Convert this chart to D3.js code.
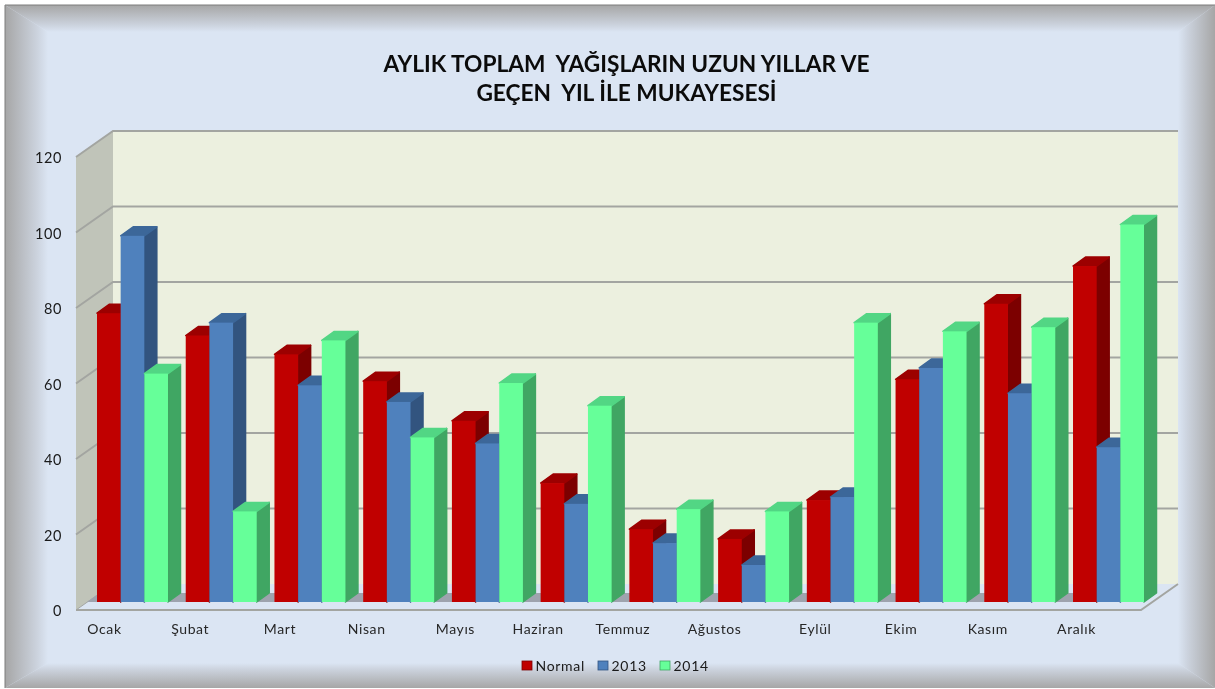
<!DOCTYPE html>
<html>
<head>
<meta charset="utf-8">
<script src="https://cdn.jsdelivr.net/npm/d3@7"></script>
<style>
  html, body { margin: 0; background: #fff; }
  svg { display: block; filter: blur(0.45px); }
  text { font-family: Lato, sans-serif; }
</style>
</head>
<body>
<svg id="chart"></svg>
<script>
const months = ["Ocak", "Şubat", "Mart", "Nisan", "Mayıs", "Haziran", "Temmuz", "Ağustos", "Eylül", "Ekim", "Kasım", "Aralık"];
const seriesNames = ["Normal", "2013", "2014"];
const normal = [76.5, 70.6, 65.6, 58.5, 48, 31.5, 19.3, 16.7, 27, 59, 79, 89];
const y2013 = [97, 74, 57.4, 53, 42, 26, 15.6, 9.8, 27.8, 62, 55.3, 41];
const y2014 = [60.5, 24, 69.3, 43.6, 58, 52, 24.6, 24, 74, 71.7, 72.8, 100];
const yTicks = [0, 20, 40, 60, 80, 100, 120];
const titleLines = ["AYLIK TOPLAM  YAĞIŞLARIN UZUN YILLAR VE", "GEÇEN  YIL İLE MUKAYESESİ"];

const width = 1215;
const height = 689;

// month labels sit left of their groups, each by a different amount
const labelNudge = [-28, -31, -30, -32, -32, -38, -42, -39, -27, -30, -32, -32];

const colors = {
  front: ["#c00000", "#4f81bd", "#66ff99"],
  side: ["#7c0000", "#32547f", "#40a663"],
  top: ["#9c0000", "#3c6799", "#52d684"]
};

const svg = d3.select("#chart").attr("width", width).attr("height", height);
const defs = svg.append("defs");

// frame: flat panel with four mitred bevels
const outer = { l: 5, t: 5, r: 1215, b: 688 };
const inner = { l: 48, t: 32, r: 1178, b: 663 };
const edge = "#a6a6a6";
const panel = "#dbe5f3";

function bevelGradient(id, x1, y1, x2, y2) {
  const g = defs.append("linearGradient").attr("id", id)
    .attr("gradientUnits", "userSpaceOnUse")
    .attr("x1", x1).attr("y1", y1).attr("x2", x2).attr("y2", y2);
  g.append("stop").attr("offset", 0).attr("stop-color", edge);
  g.append("stop").attr("offset", 0.75).attr("stop-color", "#ccd3de");
  g.append("stop").attr("offset", 1).attr("stop-color", panel);
}
bevelGradient("bevelL", outer.l, 0, inner.l, 0);
bevelGradient("bevelR", outer.r, 0, inner.r, 0);
bevelGradient("bevelT", 0, outer.t, 0, inner.t);
bevelGradient("bevelB", 0, outer.b, 0, inner.b);

svg.append("rect")
  .attr("x", outer.l).attr("y", outer.t)
  .attr("width", outer.r - outer.l).attr("height", outer.b - outer.t)
  .attr("fill", panel);

const bevels = [
  ["bevelT", [[outer.l, outer.t], [outer.r, outer.t], [inner.r, inner.t], [inner.l, inner.t]]],
  ["bevelB", [[outer.l, outer.b], [outer.r, outer.b], [inner.r, inner.b], [inner.l, inner.b]]],
  ["bevelL", [[outer.l, outer.t], [inner.l, inner.t], [inner.l, inner.b], [outer.l, outer.b]]],
  ["bevelR", [[outer.r, outer.t], [inner.r, inner.t], [inner.r, inner.b], [outer.r, outer.b]]]
];
svg.selectAll(".bevel").data(bevels).enter().append("polygon")
  .attr("points", d => d[1].join(" "))
  .attr("fill", d => `url(#${d[0]})`);

svg.append("path")
  .attr("d", `M${outer.l},${outer.b} V${outer.t} H${outer.r}`)
  .attr("fill", "none").attr("stroke", "#7d7d7d").attr("stroke-width", 1);

// title
svg.selectAll(".title").data(titleLines).enter().append("text")
  .attr("x", 626.5)
  .attr("y", (d, i) => 72 + i * 29)
  .attr("text-anchor", "middle")
  .attr("font-size", 22.7)
  .attr("font-weight", 700)
  .attr("fill", "#0b0b0b")
  .style("white-space", "pre")
  .text(d => d);

// scales are for the front edge of the floor, the walls are offset back from it
const y = d3.scaleLinear().domain([0, 120]).range([610, 157]);
const plot = { left: 76, right: 1141, depthX: 37, depthY: 26 };
const barShift = 8;   // bars stand this far up the floor
const barDepthX = 12.5;
const barDepthY = 9;

const x0 = d3.scaleBand().domain(months).range([97, 1144]).paddingInner(0.2);
const x1 = d3.scaleBand().domain(seriesNames).range([0, x0.bandwidth()]);

// walls and floor
svg.append("polygon")
  .attr("points", [[plot.left + plot.depthX, y(120) - plot.depthY], [plot.right + plot.depthX, y(120) - plot.depthY],
    [plot.right + plot.depthX, y(0) - plot.depthY], [plot.left + plot.depthX, y(0) - plot.depthY]].join(" "))
  .attr("fill", "#ecf0df");
svg.append("polygon")
  .attr("points", [[plot.left, y(120)], [plot.left + plot.depthX, y(120) - plot.depthY],
    [plot.left + plot.depthX, y(0) - plot.depthY], [plot.left, y(0)]].join(" "))
  .attr("fill", "#c0c4b9");
svg.append("polygon")
  .attr("points", [[plot.left, y(0)], [plot.left + plot.depthX, y(0) - plot.depthY],
    [plot.right + plot.depthX, y(0) - plot.depthY], [plot.right, y(0)]].join(" "))
  .attr("fill", "#dbe5f3");

const grid = svg.append("g").attr("fill", "none").attr("stroke", "#a3a5a1");
yTicks.filter(t => t > 0).forEach(t => {
  grid.append("path")
    .attr("d", `M${plot.left},${y(t)} L${plot.left + plot.depthX},${y(t) - plot.depthY} H${plot.right + plot.depthX}`)
    .attr("stroke-width", 2);
});
grid.append("path")
  .attr("d", `M${plot.left},${y(0)} H${plot.right} L${plot.right + plot.depthX},${y(0) - plot.depthY}`)
  .attr("stroke-width", 2);
grid.append("path")
  .attr("d", `M${plot.left},${y(0)} L${plot.left + plot.depthX},${y(0) - plot.depthY}`)
  .attr("stroke-width", 1);

// floor shadow in the gap before each group
const shadowY = y(0) - barShift;
const gap = x0.step() - x0.bandwidth();
svg.append("g").selectAll("polygon").data(months).enter().append("polygon")
  .attr("points", d => {
    const l = Math.max(x0(d) - gap, 87);
    const r = x0(d) + barDepthX;
    return [[l, shadowY], [l + barDepthX, shadowY - barDepthY], [r, shadowY - barDepthY], [r - barDepthX, shadowY]].join(" ");
  })
  .attr("fill", "#9ea3ae");

// bars, left to right so each one covers the side of the one before
const values = [normal, y2013, y2014];
months.forEach((m, i) => {
  seriesNames.forEach((s, k) => {
    const left = x0(m) + x1(s);
    const right = left + x1.bandwidth();
    const top = y(values[k][i]) - barShift;
    const base = y(0) - barShift;
    const g = svg.append("g").attr("stroke-linejoin", "round").attr("stroke-width", 1.5);
    g.append("polygon")
      .attr("points", [[right, top], [right + barDepthX, top - barDepthY], [right + barDepthX, base - barDepthY], [right, base]].join(" "))
      .attr("fill", colors.side[k]).attr("stroke", colors.side[k]);
    g.append("polygon")
      .attr("points", [[left, top], [left + barDepthX, top - barDepthY], [right + barDepthX, top - barDepthY], [right, top]].join(" "))
      .attr("fill", colors.top[k]).attr("stroke", colors.top[k]);
    g.append("rect")
      .attr("x", left).attr("y", top)
      .attr("width", x1.bandwidth()).attr("height", base - top)
      .attr("fill", colors.front[k]);
  });
});

// axis labels
const yAxis = svg.append("g")
  .attr("transform", "translate(62,1)")
  .call(d3.axisLeft(y).tickValues(yTicks).tickSize(0).tickPadding(0));
yAxis.select(".domain").remove();
yAxis.selectAll("text")
  .attr("font-size", 14.5).attr("fill", "#1a1a1a")
  .style("font-family", "Lato, sans-serif").style("letter-spacing", "0.6px");

const xAxis = svg.append("g")
  .attr("transform", "translate(0,624.5)")
  .call(d3.axisBottom(x0).tickSize(0).tickPadding(0));
xAxis.select(".domain").remove();
xAxis.selectAll("text")
  .attr("dx", (d, i) => labelNudge[i])
  .attr("font-size", 14).attr("fill", "#262626")
  .style("font-family", "Lato, sans-serif").style("letter-spacing", "0.6px");

// legend
const legendX = [522, 598, 660];
const legend = svg.append("g").selectAll("g").data(seriesNames).enter().append("g")
  .attr("transform", (d, i) => `translate(${legendX[i]},661)`);
legend.append("rect")
  .attr("width", 10).attr("height", 9)
  .attr("fill", (d, i) => colors.front[i])
  .attr("stroke", (d, i) => colors.side[i]).attr("stroke-width", 0.8);
legend.append("text")
  .attr("x", 13.5).attr("y", 9.5)
  .attr("font-size", 14).attr("fill", "#1a1a1a")
  .style("letter-spacing", "0.7px")
  .text(d => d);
</script>
</body>
</html>
